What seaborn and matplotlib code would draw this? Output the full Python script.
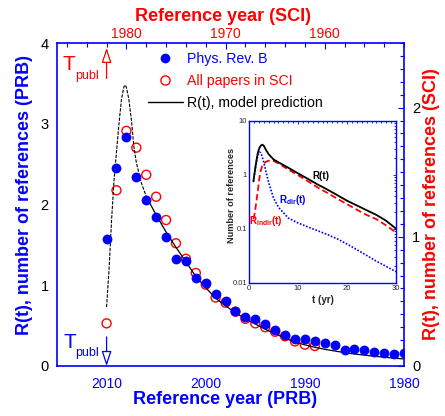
import matplotlib
matplotlib.use("Agg")
import matplotlib.pyplot as plt
from matplotlib.ticker import MultipleLocator, LogLocator, NullFormatter
from matplotlib.lines import Line2D
import seaborn as sns

# ---------------- data ----------------
prb_years = list(range(2010, 1979, -1))
prb_refs = [1.57, 2.45, 2.84, 2.34, 2.05, 1.84, 1.60, 1.33, 1.30, 1.09,
            1.03, 0.89, 0.80, 0.68, 0.61, 0.58, 0.52, 0.45, 0.39, 0.33,
            0.335, 0.31, 0.28, 0.256, 0.20, 0.213, 0.203, 0.175, 0.16, 0.152,
            0.157]

sci_years = list(range(1982, 1960, -1))
sci_refs = [0.33, 1.36, 1.82, 1.69, 1.48, 1.31, 1.13, 0.95, 0.83, 0.72,
            0.63, 0.53, 0.49, 0.42, 0.365, 0.33, 0.30, 0.265, 0.23, 0.19,
            0.165, 0.155]

model_years = [2010.0, 2009.75, 2009.5, 2009.25, 2009.0, 2008.75, 2008.5,
               2008.25, 2008.1, 2008.0, 2007.75, 2007.5, 2007.25, 2007.0,
               2006.5, 2006.0, 2005.0, 2004.0, 2003.0, 2002.0, 2001.0,
               2000.0, 1999.0, 1998.0, 1997.0, 1996.0, 1995.0, 1994.0,
               1993.0, 1992.0, 1991.0, 1990.0, 1989.0, 1988.0, 1987.0,
               1986.0, 1985.0, 1984.0, 1983.0, 1982.0, 1981.0, 1980.0]
model_refs = [0.73, 1.2, 1.8, 2.3, 2.65, 3.0, 3.3,
              3.46, 3.48, 3.45, 3.3, 3.05, 2.72, 2.52,
              2.27, 2.10, 1.87, 1.66, 1.47, 1.29, 1.11,
              0.97, 0.84, 0.745, 0.66, 0.585, 0.52, 0.455,
              0.40, 0.345, 0.297, 0.262, 0.232, 0.207, 0.186,
              0.166, 0.149, 0.134, 0.121, 0.109, 0.097, 0.087]
model_dashed_until = 2006.0

t_years = [0.9, 1.2, 1.5, 1.8, 2.1, 2.4, 2.7, 3.0, 3.5, 4, 5, 6, 8, 10,
           12, 14, 16, 18, 20, 22, 24, 26, 28, 30]
r_total = [0.75, 1.2, 1.8, 2.55, 3.1, 3.45, 3.6, 3.45, 2.85, 2.4, 1.92,
           1.70, 1.35, 1.06, 0.84, 0.66, 0.53, 0.42, 0.33, 0.27, 0.22,
           0.18, 0.14, 0.10]
r_dir = [0.75, 1.15, 1.7, 2.3, 2.62, 2.55, 2.15, 1.7, 1.1, 0.72, 0.37,
         0.25, 0.158, 0.128, 0.108, 0.092, 0.078, 0.065, 0.052, 0.041,
         0.032, 0.025, 0.020, 0.016]
r_indir = [0.15, 0.2, 0.32, 0.5, 0.85, 1.2, 1.45, 1.6, 1.75, 1.82, 1.80,
           1.62, 1.25, 0.98, 0.76, 0.58, 0.46, 0.36, 0.285, 0.225, 0.18,
           0.15, 0.115, 0.085]

legend_labels = ["Phys. Rev. B", "All papers in SCI", "R(t), model prediction"]

# ---------------- style ----------------
sns.set_style("white")
plt.rcParams['font.family'] = ['Liberation Sans', 'DejaVu Sans']
plt.rcParams['mathtext.fontset'] = 'custom'
plt.rcParams['mathtext.rm'] = 'Liberation Sans'

BLUE = '#0000ff'
RED = '#ff0000'

fig = plt.figure(figsize=(4.45, 4.16), dpi=100)
rect = [0.1281, 0.1202, 0.7798, 0.7764]
ax2 = fig.add_axes(rect, label='sci')
ax = fig.add_axes(rect, label='prb')
ax.patch.set_visible(False)
ax2.set_zorder(1)
ax.set_zorder(2)

# SCI open circles (top / right axes)
sns.scatterplot(x=sci_years, y=sci_refs, ax=ax2, s=42, color=RED,
                linewidth=1.0, zorder=3)
coll = ax2.collections[0]
coll.set_facecolor('none')
coll.set_edgecolor(RED)
coll.set_linewidth(1.0)

# model line (PRB units)
early_x = [y for y in model_years if y >= model_dashed_until]
early_y = model_refs[:len(early_x)]
late_x = model_years[len(early_x) - 1:]
late_y = model_refs[len(early_x) - 1:]
sns.lineplot(x=early_x, y=early_y, ax=ax, sort=False, estimator=None,
             color='black', lw=0.8, linestyle=(0, (3, 1.2)), zorder=2)
sns.lineplot(x=late_x, y=late_y, ax=ax, sort=False, estimator=None,
             color='black', lw=0.9, zorder=2)

# PRB filled circles
sns.scatterplot(x=prb_years, y=prb_refs, ax=ax, s=50, color=BLUE,
                linewidth=0, zorder=4)

# axes limits / ticks: PRB
ax.set_xlim(2015, 1980)
ax.set_ylim(0, 4)
ax.set_xticks([2010, 2000, 1990, 1980])
ax.xaxis.set_minor_locator(MultipleLocator(2))
ax.set_yticks([0, 1, 2, 3, 4])
ax.yaxis.set_minor_locator(MultipleLocator(0.2))
ax.tick_params(axis='both', which='both', direction='in', color=BLUE,
               width=0.8, top=False, right=False)
ax.tick_params(axis='both', which='major', length=4)
ax.tick_params(axis='both', which='minor', length=2.6)
ax.tick_params(axis='x', labelcolor=BLUE, labelsize=10, pad=8)
ax.tick_params(axis='y', labelcolor='black', labelsize=10.5, pad=6)
for s in ax.spines.values():
    s.set_color(BLUE)
    s.set_linewidth(1.2)
    s.set_visible(True)

# SCI axes
ax2.set_xlim(1987, 1952)
ax2.set_ylim(0, 2.5)
ax2.xaxis.tick_top()
ax2.yaxis.tick_right()
ax2.xaxis.set_label_position('top')
ax2.yaxis.set_label_position('right')
ax2.set_xticks([1980, 1970, 1960])
ax2.xaxis.set_minor_locator(MultipleLocator(2))
ax2.set_yticks([0, 1, 2])
ax2.yaxis.set_minor_locator(MultipleLocator(0.1))
ax2.tick_params(axis='both', which='both', direction='in', color=BLUE,
                width=0.8, bottom=False, left=False, top=True, right=True)
ax2.tick_params(axis='both', which='major', length=4)
ax2.tick_params(axis='both', which='minor', length=2.6)
ax2.tick_params(axis='x', labelcolor=RED, labelsize=10, pad=1.8)
ax2.tick_params(axis='y', labelcolor='black', labelsize=10.5, pad=6)
for s in ax2.spines.values():
    s.set_visible(False)

# axis labels
ax.set_xlabel('Reference year (PRB)', fontsize=13, fontweight='bold', color=BLUE)
ax.xaxis.set_label_coords(0.484, -0.078)
ax.set_ylabel('R(t), number of references (PRB)', fontsize=13,
              fontweight='bold', color=BLUE)
ax.yaxis.set_label_coords(-0.068, 0.53)
ax2.set_xlabel('Reference year (SCI)', fontsize=13, fontweight='bold', color=RED)
ax2.xaxis.set_label_coords(0.478, 1.068)
ax2.set_ylabel('R(t), number of references (SCI)', fontsize=13,
               fontweight='bold', color=RED)
ax2.yaxis.set_label_coords(1.056, 0.5)

# legend
handles = [Line2D([], [], marker='o', linestyle='none', markersize=7,
                  markerfacecolor=BLUE, markeredgewidth=0),
           Line2D([], [], marker='o', linestyle='none', markersize=6.6,
                  markerfacecolor='none', markeredgecolor=RED, markeredgewidth=1),
           Line2D([], [], color='black', lw=1)]
leg = ax.legend(handles, legend_labels, loc='upper left',
                bbox_to_anchor=(0.262, 0.972), frameon=False, fontsize=10.2,
                handlelength=2.45, handletextpad=0.3, labelspacing=0.55,
                borderaxespad=0, borderpad=0)
for txt, c in zip(leg.get_texts(), [BLUE, RED, 'black']):
    txt.set_color(c)

# T_publ annotations
ax.text(2014.45, 3.666, 'T', color=RED, fontsize=15, ha='left', va='baseline')
ax.text(2013.15, 3.56, 'publ', color=RED, fontsize=9, ha='left', va='baseline')
ax.annotate('', xy=(2010, 3.94), xytext=(2010, 3.56),
            arrowprops=dict(arrowstyle='-|>,head_length=0.9,head_width=0.3',
                            ec=RED, fc='white', lw=0.9, mutation_scale=10,
                            shrinkA=0, shrinkB=0))
ax.text(2014.35, 0.223, 'T', color=BLUE, fontsize=15, ha='left', va='baseline')
ax.text(2013.15, 0.125, 'publ', color=BLUE, fontsize=9, ha='left', va='baseline')
ax.annotate('', xy=(2010, 0.0), xytext=(2010, 0.36),
            arrowprops=dict(arrowstyle='-|>,head_length=0.9,head_width=0.3',
                            ec=BLUE, fc='white', lw=0.9, mutation_scale=10,
                            shrinkA=0, shrinkB=0))

# ---------------- inset ----------------
ins = fig.add_axes([0.5596, 0.3204, 0.3303, 0.3894])
ins.set_zorder(5)
sns.lineplot(x=t_years, y=r_dir, ax=ins, sort=False, estimator=None,
             color=BLUE, lw=1.2, linestyle=(0, (1, 1)))
sns.lineplot(x=t_years, y=r_indir, ax=ins, sort=False, estimator=None,
             color=RED, lw=1.3, linestyle=(0, (3.5, 1.8)))
sns.lineplot(x=t_years, y=r_total, ax=ins, sort=False, estimator=None,
             color='black', lw=1.3)
ins.set_yscale('log')
ins.set_xlim(0, 30)
ins.set_ylim(0.01, 10)
ins.set_xticks([0, 10, 20, 30])
ins.xaxis.set_minor_locator(MultipleLocator(1))
ins.set_yticks([0.01, 0.1, 1, 10], ['0.01', '0.1', '1', '10'])
ins.yaxis.set_minor_locator(LogLocator(base=10, subs=range(2, 10)))
ins.yaxis.set_minor_formatter(NullFormatter())
ins.tick_params(axis='both', which='both', direction='in', color=BLUE,
                top=True, right=True, labelsize=5.5, pad=1.5, width=0.6)
ins.tick_params(which='major', length=2.5)
ins.tick_params(which='minor', length=1.4)
for s in ins.spines.values():
    s.set_color(BLUE)
    s.set_linewidth(1.0)
ins.set_xlabel('t (yr)', fontsize=7, fontweight='bold', labelpad=2)
ins.set_ylabel('Number of references', fontsize=6.6, fontweight='bold', labelpad=1)
ins.yaxis.set_label_coords(-0.09, 0.54)
ins.text(14.7, 0.95, 'R(t)', fontsize=7, fontweight='bold', color='black',
         ha='center', va='center')
ins.text(9.0, 0.34, r'R$_{\mathregular{dir}}$(t)', fontsize=7, fontweight='bold',
         color=BLUE, ha='center', va='center')
ins.text(3.4, 0.139, r'R$_{\mathregular{indir}}$(t)', fontsize=7,
         fontweight='bold', color=RED, ha='center', va='center')

fig.savefig('out.png', dpi=100)
